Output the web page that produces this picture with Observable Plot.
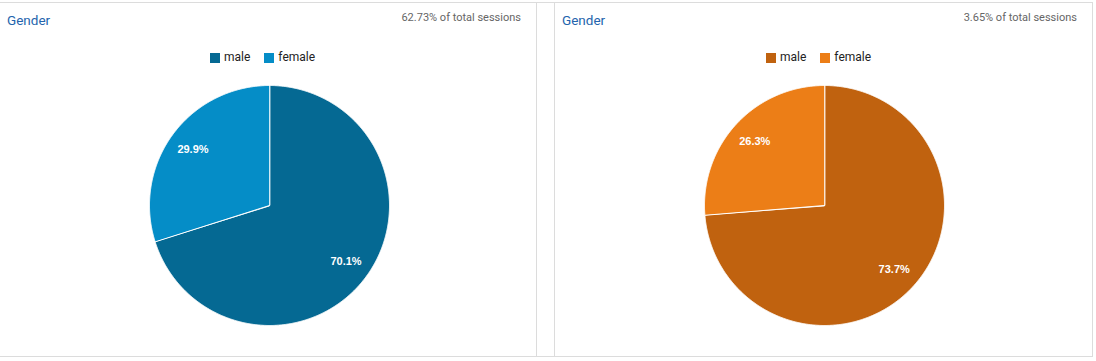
<!DOCTYPE html>
<html><head><meta charset="utf-8">
<script src="https://cdn.jsdelivr.net/npm/d3@7"></script>
<script src="https://cdn.jsdelivr.net/npm/@observablehq/plot@0.6"></script>
<style>
body{margin:0;background:#fff;font-family:Roboto,"Open Sans",sans-serif;}
#root{position:relative;width:1096px;height:361px;overflow:hidden}
.line{position:absolute;background:#dcdcdc}
.title{position:absolute;font-size:13.5px;color:#2464ad;top:12px;line-height:16px}
.sub{position:absolute;font-size:11px;color:#666;top:11px;text-align:right;line-height:13px}
.legend{position:absolute;top:50px;font-size:12px;color:#222;display:flex;align-items:center;line-height:15px}
.sw{display:inline-block;width:10px;height:10px;margin-right:4px}
.item{display:flex;align-items:center;margin-right:14px}
.pie{position:absolute}
</style>
</head><body><div id="root"></div>
<script>
const categories = ["male", "female"];
const titles = ["Gender", "Gender"];
const subtitles = ["62.73% of total sessions", "3.65% of total sessions"];
const valuesLeft = [70.1, 29.9];
const valuesRight = [73.7, 26.3];
const colorsLeft = ["#056993", "#058dc7"];
const colorsRight = ["#c0620f", "#ec7e17"];

const root = d3.select("#root");

function hline(x, y, w) { root.append("div").attr("class","line").style("left",x+"px").style("top",y+"px").style("width",w+"px").style("height","1px"); }
function vline(x, y, h) { root.append("div").attr("class","line").style("left",x+"px").style("top",y+"px").style("width","1px").style("height",h+"px"); }
hline(0, 2, 1093);
hline(0, 356, 1093);
vline(536, 2, 355);
vline(554, 2, 355);
vline(1092, 2, 355);

function pieChart(values, colors) {
  const arcs = d3.pie().sort(null)(values);
  const pts = [];
  const labels = [];
  arcs.forEach((a, i) => {
    const k = categories[i];
    const n = Math.max(2, Math.ceil((a.endAngle - a.startAngle) / 0.005));
    pts.push({k, x: 0, y: 0});
    for (let j = 0; j <= n; j++) {
      const t = a.startAngle + (a.endAngle - a.startAngle) * j / n;
      pts.push({k, x: Math.sin(t), y: Math.cos(t)});
    }
    const m = (a.startAngle + a.endAngle) / 2;
    labels.push({x: 0.79 * Math.sin(m), y: 0.79 * Math.cos(m), text: values[i].toFixed(1) + "%"});
  });
  return Plot.plot({
    width: 242, height: 242, margin: 1,
    x: {domain: [-1, 1], axis: null},
    y: {domain: [-1, 1], axis: null},
    color: {domain: categories, range: colors},
    marks: [
      Plot.line(pts, {x: "x", y: "y", z: "k", fill: "k", stroke: "white", strokeWidth: 1, curve: "linear-closed"}),
      Plot.text(labels, {x: "x", y: "y", text: "text", fill: "white", fontSize: 11, fontWeight: "bold", fontFamily: "Arial, 'Liberation Sans', sans-serif"})
    ]
  });
}

const panels = [
  {title: titles[0], sub: subtitles[0], values: valuesLeft, colors: colorsLeft, tx: 7, subRight: 521, legendX: 210, cx: 269, cy: 205},
  {title: titles[1], sub: subtitles[1], values: valuesRight, colors: colorsRight, tx: 562, subRight: 1077, legendX: 766, cx: 824, cy: 205}
];

panels.forEach(p => {
  root.append("div").attr("class","title").style("left", p.tx + "px").text(p.title);
  root.append("div").attr("class","sub").style("left","0px").style("width", p.subRight + "px").text(p.sub);
  const lg = root.append("div").attr("class","legend").style("left", p.legendX + "px");
  categories.forEach((c, i) => {
    const it = lg.append("div").attr("class","item");
    it.append("span").attr("class","sw").style("background", p.colors[i]);
    it.append("span").text(c);
  });
  const svg = pieChart(p.values, p.colors);
  const holder = root.append("div").attr("class","pie").style("left", (p.cx - 121) + "px").style("top", (p.cy - 121) + "px");
  holder.node().appendChild(svg);
});
</script>
</body></html>
